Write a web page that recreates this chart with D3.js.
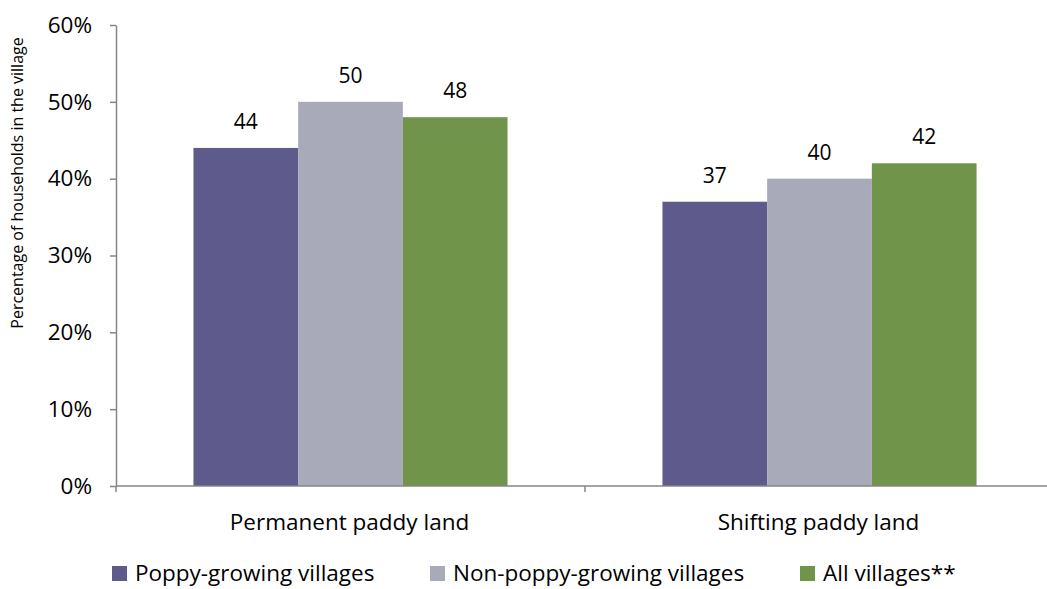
<!DOCTYPE html>
<html><head><meta charset="utf-8">
<script src="https://cdn.jsdelivr.net/npm/d3@7"></script>
<style>body{margin:0;background:#fff;} svg{display:block;}</style>
</head><body>
<svg id="c" width="1047" height="589"></svg>
<script>
const categories = ["Permanent paddy land", "Shifting paddy land"];
const seriesNames = ["Poppy-growing villages", "Non-poppy-growing villages", "All villages**"];
const poppy = [44, 37];
const nonPoppy = [50, 40];
const allVillages = [48, 42];
const yTicks = [0, 10, 20, 30, 40, 50, 60];
const colors = ["#5F5A8C", "#A9AAB9", "#70954A"];
const seriesValues = [poppy, nonPoppy, allVillages];

const font = "'Open Sans', sans-serif";
const svg = d3.select("#c");
const x0 = 116, x1 = 1054, yTop = 25, yBot = 486;

const x = d3.scaleBand().domain(categories).range([x0, x1]).paddingInner(0).paddingOuter(0);
const xs = d3.scaleBand().domain(d3.range(3)).range([0, x.bandwidth()]).paddingOuter(0.74).paddingInner(0);
const y = d3.scaleLinear().domain([0, 60]).range([yBot, yTop]);

// bars
categories.forEach((c, ci) => {
  seriesValues.forEach((vals, si) => {
    svg.append("rect")
      .attr("x", x(c) + xs(si)).attr("width", xs.bandwidth())
      .attr("y", y(vals[ci])).attr("height", yBot - y(vals[ci]))
      .attr("fill", colors[si]);
    svg.append("text")
      .attr("x", x(c) + xs(si) + xs.bandwidth() / 2)
      .attr("y", y(vals[ci]) - 19)
      .attr("text-anchor", "middle")
      .attr("font-family", font).attr("font-size", 21).attr("fill", "#000")
      .text(vals[ci]);
  });
});

// y axis
const yAxis = d3.axisLeft(y).tickValues(yTicks).tickFormat(d => d + "%").tickSize(6).tickSizeOuter(0);
const ga = svg.append("g").attr("transform", `translate(${x0},0)`).call(yAxis);
ga.select(".domain").attr("stroke", "#868686").attr("stroke-width", 1.5);
ga.selectAll(".tick line").attr("stroke", "#868686").attr("stroke-width", 1.5);
ga.selectAll(".tick text").attr("font-family", font).attr("font-size", 22.5).attr("fill", "#000").attr("x", -24);

// x axis
const gx = svg.append("g").attr("transform", `translate(0,${yBot})`);
gx.append("line").attr("x1", x0).attr("x2", x1).attr("y1", 0).attr("y2", 0).attr("stroke", "#868686").attr("stroke-width", 1.5);
[x0, x(categories[1])].forEach(p => {
  gx.append("line").attr("x1", p).attr("x2", p).attr("y1", 0).attr("y2", 6).attr("stroke", "#868686").attr("stroke-width", 1.5);
});
categories.forEach(c => {
  gx.append("text").attr("x", x(c) + x.bandwidth() / 2 - 1).attr("y", 44)
    .attr("text-anchor", "middle").attr("font-family", font).attr("font-size", 22.5).attr("fill", "#000").text(c);
});

// y title
svg.append("text").attr("transform", "translate(23,183) rotate(-90)")
  .attr("text-anchor", "middle").attr("font-family", font).attr("font-size", 16).attr("fill", "#000")
  .text("Percentage  of households in the village");

// legend
const legX = [112, 430, 800];
seriesNames.forEach((n, i) => {
  svg.append("rect").attr("x", legX[i]).attr("y", 566).attr("width", 15).attr("height", 15).attr("fill", colors[i]);
  svg.append("text").attr("x", legX[i] + 23).attr("y", 581).attr("font-family", font).attr("font-size", 22.5).attr("fill", "#000").text(n);
});
</script>
</body></html>
